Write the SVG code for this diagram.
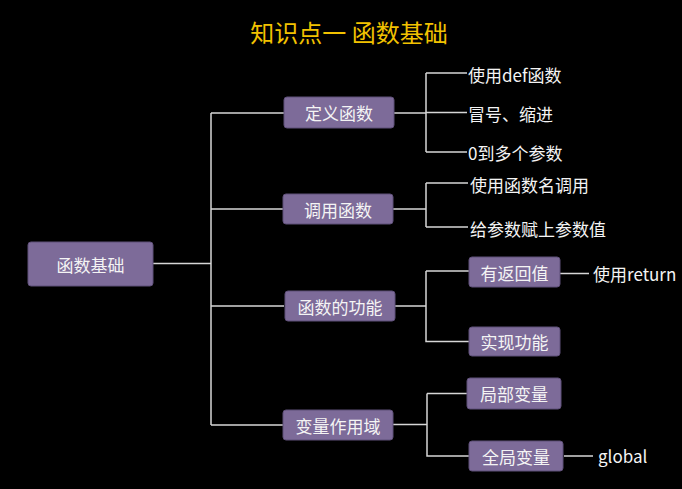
<svg xmlns="http://www.w3.org/2000/svg" width="682" height="489" viewBox="0 0 682 489">
<style>
.bg{fill:#000}
.box{fill:#7d6b99;stroke:#5f5079;stroke-width:1}
.t{font-family:"Noto Sans CJK SC","Noto Sans",sans-serif;font-size:17px;fill:#f4f4f4}
.c{text-anchor:middle;dominant-baseline:central}
.l{dominant-baseline:central}
.title{font-family:"Noto Sans CJK SC","Noto Sans",sans-serif;font-size:24px;fill:#f2c200;text-anchor:middle}
.ln{fill:none;stroke:#d6d6d6;stroke-width:1.5}
</style>
<rect class="bg" x="0" y="0" width="682" height="489"/>
<text class="title" x="349" y="42">知识点一 函数基础</text>
<g id="connectors">
<path class="ln" d="M153 263.5H211M211 113V425M211 113H284M211 209H284M211 306H284M211 425H284"/>
<path class="ln" d="M394 113H426M426 73V152M426 73H467M426 112.5H467M426 152H467"/>
<path class="ln" d="M393 209H426M426 183V227M426 183H468M426 227H468"/>
<path class="ln" d="M395 306H426M426 271V341.5H469M426 271H469"/>
<path class="ln" d="M393 424.5H427M427 393.5V456H469M427 393.5H467"/>
<path class="ln" d="M560 273.5H589M564 456H593"/>
</g>
<g id="root"><rect class="box" x="28" y="242" width="125" height="44" rx="3"/><text class="t c" x="90.5" y="264">函数基础</text></g>
<g id="n1"><rect class="box" x="284" y="97" width="110" height="31" rx="3"/><text class="t c" x="339" y="112.5">定义函数</text></g>
<g id="n2"><rect class="box" x="283" y="194" width="110" height="30" rx="3"/><text class="t c" x="338" y="209">调用函数</text></g>
<g id="n3"><rect class="box" x="285" y="291" width="110" height="30" rx="3"/><text class="t c" x="340" y="306">函数的功能</text></g>
<g id="n4"><rect class="box" x="283" y="410" width="110" height="30" rx="3"/><text class="t c" x="338" y="425">变量作用域</text></g>
<g id="l1"><text class="t l" x="468" y="74">使用def函数</text></g>
<g id="l2"><text class="t l" x="468" y="113">冒号、缩进</text></g>
<g id="l3"><text class="t l" x="468" y="152">0到多个参数</text></g>
<g id="l4"><text class="t l" x="470" y="184">使用函数名调用</text></g>
<g id="l5"><text class="t l" x="470" y="228">给参数赋上参数值</text></g>
<g id="n5"><rect class="box" x="469" y="257" width="91" height="30" rx="3"/><text class="t c" x="514.5" y="272">有返回值</text></g>
<g id="n6"><rect class="box" x="469" y="327" width="91" height="29" rx="3"/><text class="t c" x="514.5" y="341.5">实现功能</text></g>
<g id="n7"><rect class="box" x="467" y="378" width="94" height="31" rx="3"/><text class="t c" x="514" y="393.5">局部变量</text></g>
<g id="n8"><rect class="box" x="469" y="441" width="94" height="30" rx="3"/><text class="t c" x="516" y="456">全局变量</text></g>
<g id="l6"><text class="t l" x="593" y="273">使用return</text></g>
<g id="l7"><text class="t l" x="598" y="455">global</text></g>
</svg>
